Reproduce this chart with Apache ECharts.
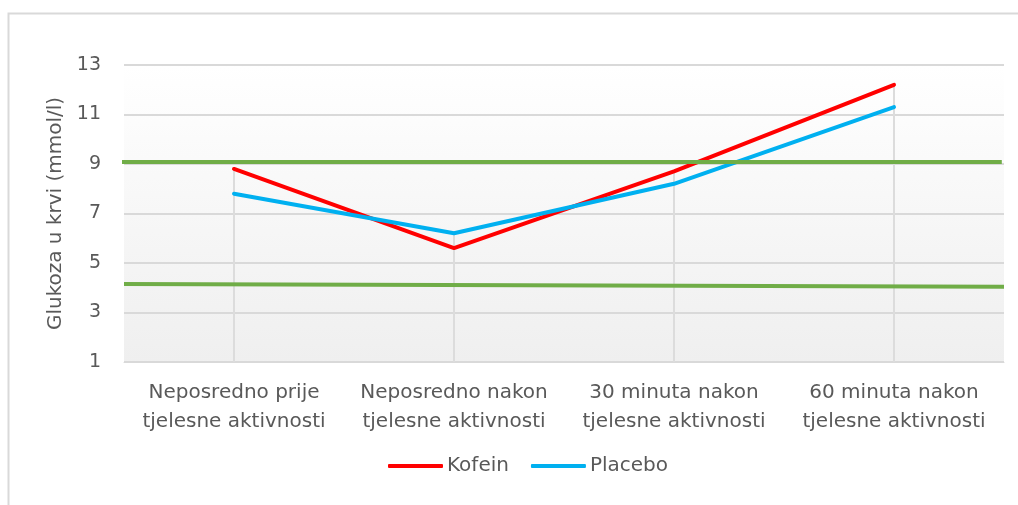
<!DOCTYPE html>
<html>
<head>
<meta charset="utf-8">
<script src="https://cdn.jsdelivr.net/npm/echarts@6/dist/echarts.min.js"></script>
<style>
  html, body { margin: 0; padding: 0; background: #fff; }
  #chart { width: 1018px; height: 505px; }
</style>
</head>
<body>
<div id="chart"></div>
<script>
// podaci očitani sa slike
const categories = [
  "Neposredno prije\ntjelesne aktivnosti",
  "Neposredno nakon\ntjelesne aktivnosti",
  "30 minuta nakon\ntjelesne aktivnosti",
  "60 minuta nakon\ntjelesne aktivnosti"
];
const kofein = [8.8, 5.6, 8.7, 12.2];
const placebo = [7.8, 6.2, 8.2, 11.3];
// zelene referentne linije (početak i kraj)
const upperLimit = [[-0.03, 9.08], [3.99, 9.08]];
const lowerLimit = [[0, 4.15], [4, 4.04]];

const dropLines = kofein.map((v, i) => Math.max(v, placebo[i]));

const textColor = "#595959";
const font = "DejaVu Sans";

let myChart = echarts.init(document.getElementById("chart"));
let option = {
  animation: false,
  textStyle: { fontFamily: font },
  graphic: [
    {
      type: "rect",
      left: 6, top: 11,
      shape: { width: 1100, height: 520 },
      style: { fill: "none", stroke: "#d9d9d9", lineWidth: 2 },
      silent: true
    }
  ],
  grid: {
    left: 124, right: 14, top: 65, bottom: 143,
    show: true,
    borderWidth: 0,
    backgroundColor: new echarts.graphic.LinearGradient(0, 0, 0, 1, [
      { offset: 0, color: "#ffffff" },
      { offset: 1, color: "#efefef" }
    ])
  },
  legend: {
    data: ["Kofein", "Placebo"],
    bottom: 24,
    left: 383,
    icon: "roundRect",
    itemWidth: 55,
    itemHeight: 4,
    itemGap: 22,
    textStyle: { color: textColor, fontSize: 20, fontFamily: font, padding: [0, 0, 0, -1] }
  },
  xAxis: [
    {
      type: "category",
      data: categories,
      boundaryGap: true,
      axisLine: { show: true, lineStyle: { color: "#d9d9d9", width: 1 } },
      axisTick: { show: false },
      splitLine: { show: false },
      axisLabel: {
        color: textColor, fontSize: 20, fontFamily: font,
        lineHeight: 29, margin: 16, interval: 0
      }
    },
    {
      type: "value",
      min: 0, max: 4,
      show: false
    }
  ],
  yAxis: {
    type: "value",
    min: 1, max: 13, interval: 2,
    name: "Glukoza u krvi (mmol/l)",
    nameLocation: "middle",
    nameGap: 58,
    nameTextStyle: { color: textColor, fontSize: 20, fontFamily: font },
    axisLine: { show: false },
    axisTick: { show: false },
    axisLabel: { color: textColor, fontSize: 19, fontFamily: font, margin: 23 },
    splitLine: { lineStyle: { color: "#d9d9d9", width: 2 } }
  },
  series: [
    {
      name: "drop",
      type: "bar",
      data: dropLines,
      barWidth: 2,
      itemStyle: { color: "#dcdcdc" },
      silent: true,
      z: 1
    },
    {
      name: "Kofein",
      type: "line",
      data: kofein,
      symbol: "none",
      lineStyle: { color: "#ff0000", width: 4, cap: "round" },
      itemStyle: { color: "#ff0000" },
      z: 3
    },
    {
      name: "Placebo",
      type: "line",
      data: placebo,
      symbol: "none",
      lineStyle: { color: "#00b0f0", width: 4, cap: "round" },
      itemStyle: { color: "#00b0f0" },
      z: 4
    },
    {
      name: "gornja",
      type: "line",
      xAxisIndex: 1,
      data: upperLimit,
      symbol: "none",
      clip: false,
      lineStyle: { color: "#70ad47", width: 4 },
      z: 5
    },
    {
      name: "donja",
      type: "line",
      xAxisIndex: 1,
      data: lowerLimit,
      symbol: "none",
      clip: false,
      lineStyle: { color: "#70ad47", width: 4 },
      z: 5
    }
  ]
};
option && myChart.setOption(option);
</script>
</body>
</html>
